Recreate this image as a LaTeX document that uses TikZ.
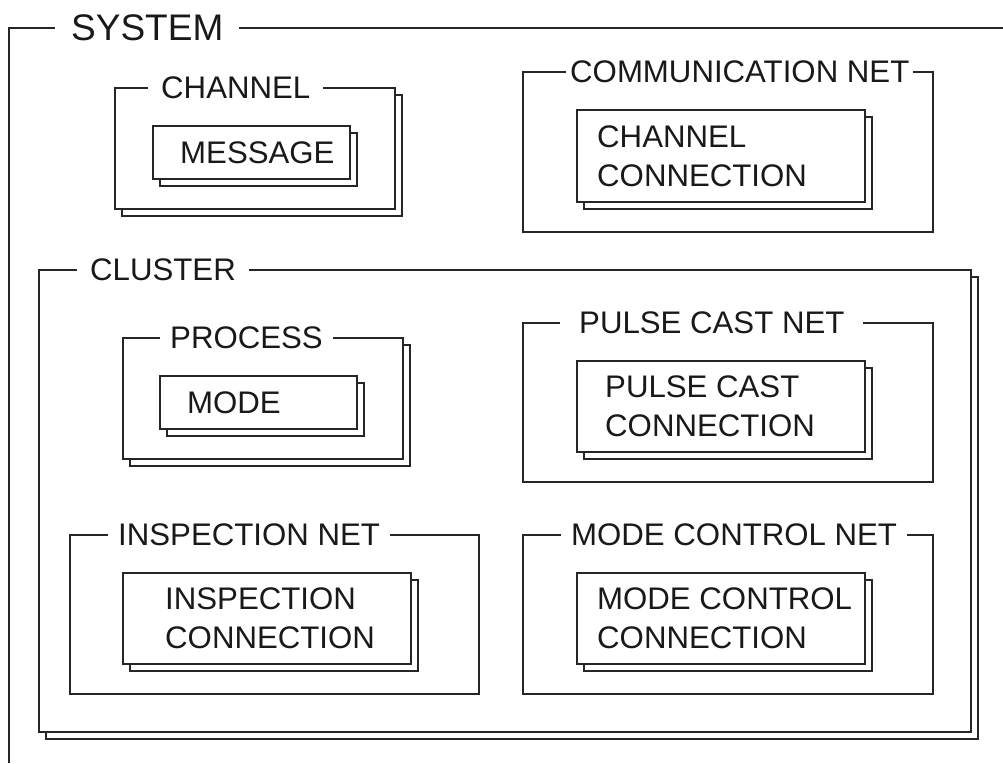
\documentclass[tikz,border=0pt]{standalone}
\usepackage{fontspec}
\setmainfont{Liberation Sans}
\usepackage{tikz}
\usetikzlibrary{positioning, shadows}

\begin{document}
\begin{tikzpicture}[
        x=1pt, y=-1pt,
        panel/.style={rectangle, draw=black!85, fill=white, line width=1.4pt, inner sep=0pt, outer sep=0pt, anchor=north west},
        stack/.style={panel, copy shadow={shadow xshift=7pt, shadow yshift=-7pt}},
        heading/.style={fill=white, inner xsep=10pt, inner ysep=1pt, text=black!90, font=\fontsize{31.2}{38}\selectfont},
        caption/.style={inner sep=0pt, align=left, text=black!90, font=\fontsize{31.2}{39}\selectfont}
        ]
        \useasboundingbox (0,0) rectangle (1003,763);

        % system frame, open to the right and below
        \coordinate (sys) at (9,28);
        \draw [black!85, line width=1.4pt] (1003,28) -- (sys) -- (9,763);
        \node (systitle) [heading, inner xsep=16pt, right=46pt of sys, font=\fontsize{37}{44}\selectfont] {SYSTEM};

        % channel
        \node (chan) [stack, minimum width=280pt, minimum height=121pt] at (115,88) {};
        \node (chantitle) [heading, inner xsep=13pt, right=33pt of chan.north west] {CHANNEL};
        \node (msg) [stack, minimum width=197pt, minimum height=53pt] at (153,126) {};
        \node (msgtext) [caption, right=27pt of msg.west] {MESSAGE};

        % communication net
        \node (comm) [panel, minimum width=410pt, minimum height=160pt] at (523,72) {};
        \node (commtitle) [heading, inner xsep=4pt, right=43pt of comm.north west] {COMMUNICATION NET};
        \node (ccon) [stack, minimum width=288pt, minimum height=92pt] at (577,110) {};
        \node (ccontext) [caption, right=20pt of ccon.west] {CHANNEL\\CONNECTION};

        % cluster
        \node (clus) [stack, minimum width=932pt, minimum height=462pt] at (39,270) {};
        \node (clustitle) [heading, inner xsep=13pt, right=38pt of clus.north west] {CLUSTER};

        \node (proc) [stack, minimum width=280pt, minimum height=121pt] at (123,338) {};
        \node (proctitle) [heading, right=37pt of proc.north west] {PROCESS};
        \node (mode) [stack, minimum width=197pt, minimum height=53pt] at (160,376) {};
        \node (modetext) [caption, right=27pt of mode.west] {MODE};

        \node (pnet) [panel, minimum width=410pt, minimum height=159pt] at (523,323) {};
        \node (pnettitle) [heading, inner xsep=19pt, right=37pt of pnet.north west] {PULSE CAST NET};
        \node (pcon) [stack, minimum width=288pt, minimum height=91pt] at (577,361) {};
        \node (pcontext) [caption, right=28pt of pcon.west] {PULSE CAST\\CONNECTION};

        \node (inet) [panel, minimum width=409pt, minimum height=159pt] at (70,535) {};
        \node (inettitle) [heading, right=38pt of inet.north west] {INSPECTION NET};
        \node (icon) [stack, minimum width=288pt, minimum height=91pt] at (123,573) {};
        \node (icontext) [caption, right=42pt of icon.west] {INSPECTION\\CONNECTION};

        \node (mnet) [panel, minimum width=410pt, minimum height=159pt] at (523,535) {};
        \node (mnettitle) [heading, right=38pt of mnet.north west] {MODE CONTROL NET};
        \node (mcon) [stack, minimum width=288pt, minimum height=91pt] at (577,573) {};
        \node (mcontext) [caption, right=20pt of mcon.west] {MODE CONTROL\\CONNECTION};

    \end{tikzpicture}
\end{document}
